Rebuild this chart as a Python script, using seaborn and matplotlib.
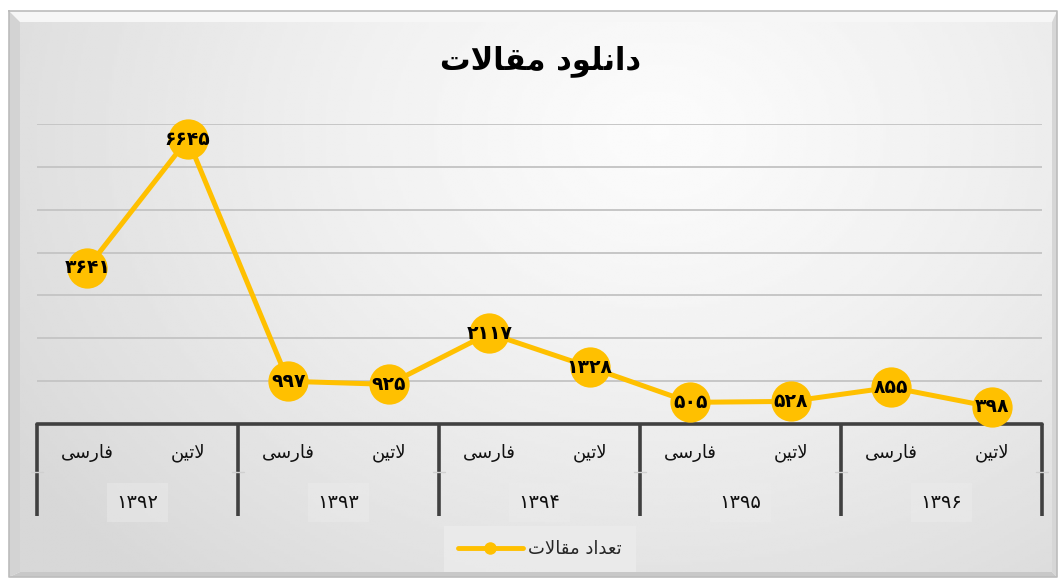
import numpy as np
import pandas as pd
import matplotlib.pyplot as plt
import matplotlib.transforms as mtransforms
from matplotlib.lines import Line2D
from matplotlib.patches import Polygon
import seaborn as sns

sns.set_style('white')
plt.rcParams['font.family'] = ['DejaVu Sans']

# --- data (text pre-shaped into Arabic presentation forms, visual order) ---
title = '\uFE95\uFEFB\uFE8E\uFED8\uFEE3 \uFEA9\uFEEE\uFEE0\uFEE7\uFE8D\uFEA9'      # دانلود مقالات
series_name = '\uFE95\uFEFB\uFE8E\uFED8\uFEE3 \uFEA9\uFE8D\uFEAA\uFECC\uFE97'  # تعداد مقالات
farsi = '\uFEF0\uFEB3\uFEAD\uFE8E\uFED3'   # فارسی
latin = '\uFEE6\uFEF4\uFE97\uFEFB'         # لاتین
years = ['۱۳۹۲', '۱۳۹۳', '۱۳۹۴', '۱۳۹۵', '۱۳۹۶']
langs = [farsi, latin]
values = [3641, 6645, 997, 925, 2117, 1328, 505, 528, 855, 398]

fa_digits = str.maketrans('0123456789', '۰۱۲۳۴۵۶۷۸۹')
GOLD = '#FFC000'
DARK = '#404040'

df = pd.DataFrame({
    'pos': np.arange(len(values)),
    'value': values,
    'lang': langs * len(years),
    'year': np.repeat(years, len(langs)),
})

W, H = 1059, 580
fig = plt.figure(figsize=(W / 100, H / 100), dpi=100)
fig.patch.set_facecolor('white')

# --- background panel with gradient and bevel (pixel coords) ---
bg = fig.add_axes([0, 0, 1, 1])
bg.set_xlim(0, W)
bg.set_ylim(H, 0)
bg.axis('off')
yy, xx = np.mgrid[0:1:200j, 0:1:400j]
dist = np.sqrt(((xx - 0.62) / 0.75) ** 2 + ((yy - 0.2) / 1.1) ** 2)
shade = 0.985 - 0.14 * np.clip(dist, 0, 1) ** 1.3
bg.imshow(shade, cmap='gray', vmin=0, vmax=1, extent=(20, 1052, 572, 22),
          aspect='auto', interpolation='bilinear', zorder=0)
L, T, R, B = 9, 11, 1057, 577
bw_l, bw_t, bw_r, bw_b = 11, 11, 5, 5
bg.add_patch(Polygon([(L, T), (R, T), (R - bw_r, T + bw_t), (L + bw_l, T + bw_t)],
                     closed=True, fc='#f6f6f6', ec='none', zorder=1))
bg.add_patch(Polygon([(L, T), (L + bw_l, T + bw_t), (L + bw_l, B - bw_b), (L, B)],
                     closed=True, fc='#d3d3d3', ec='none', zorder=1))
bg.add_patch(Polygon([(R, T), (R, B), (R - bw_r, B - bw_b), (R - bw_r, T + bw_t)],
                     closed=True, fc='#d6d6d6', ec='none', zorder=1))
bg.add_patch(Polygon([(L, B), (R, B), (R - bw_r, B - bw_b), (L + bw_l, B - bw_b)],
                     closed=True, fc='#c8c8c8', ec='none', zorder=1))
bg.plot([L, R, R, L, L], [T, T, B, B, T], color='#bcbcbc', lw=1.2, zorder=2)

# --- main chart ---
ax = fig.add_axes([37 / W, (H - 424) / H, 1005 / W, 300 / H])
ax.patch.set_alpha(0)
ax.set_xlim(-0.5, len(values) - 0.5)
ax.set_ylim(0, 7000)
ax.set_yticks(range(0, 7001, 1000))
ax.yaxis.grid(True, color='#c6c6c6', lw=1.4)
ax.xaxis.grid(False)
ax.set_xticks([])
ax.tick_params(left=False, labelleft=False)
for s in ax.spines.values():
    s.set_visible(False)
ax.axhline(0, color=DARK, lw=2.6, zorder=2, clip_on=False)

sns.lineplot(data=df, x='pos', y='value', ax=ax, color=GOLD, lw=3.6,
             marker='o', markersize=29, markeredgewidth=0, legend=False,
             zorder=3, clip_on=False)
for line in ax.lines:
    line.set_clip_on(False)

for x, v in zip(df['pos'], df['value']):
    ax.text(x, v, str(v).translate(fa_digits), ha='center', va='center',
            fontsize=13.5, fontweight='bold', color='black', zorder=4)

ax.set_xlabel('')
ax.set_ylabel('')

# --- two-level category axis ---
trans = mtransforms.blended_transform_factory(ax.transData, ax.transAxes)
n_per = len(langs)
for b in np.arange(-0.5, len(values), n_per):
    ax.plot([b, b], [0, -0.305], transform=trans, color=DARK, lw=2.6,
            clip_on=False, solid_capstyle='butt')
    ax.plot([b - 0.06, b + 0.06], [-0.16, -0.16], transform=trans,
            color='#d0d0d0', lw=1, clip_on=False)
for x, lab in zip(df['pos'], df['lang']):
    ax.text(x, -0.097, lab, transform=trans, ha='center', va='center',
            fontsize=13, color='#111111')
for g, yr in enumerate(years):
    ax.text(g * n_per + (n_per - 1) / 2, -0.262, yr, transform=trans,
            ha='center', va='center', fontsize=14, color='#111111',
            bbox=dict(boxstyle='square,pad=0.5', fc='#ececec', ec='none', alpha=0.45))

# --- title and legend ---
fig.text(540 / W, 1 - 61 / H, title, ha='center', va='center',
         fontsize=22, fontweight='bold', color='black')
handle = Line2D([], [], color=GOLD, lw=3.5, marker='o', markersize=9, markeredgewidth=0)
leg = fig.legend(handles=[handle], labels=[series_name], loc='center',
                 bbox_to_anchor=(540 / W, 1 - 549 / H), frameon=True,
                 fontsize=13, handlelength=3.6, fancybox=False,
                 borderpad=0.8, handletextpad=0.3)
leg.get_frame().set_facecolor('#ececec')
leg.get_frame().set_edgecolor('none')

fig.savefig('out.png', dpi=100)
